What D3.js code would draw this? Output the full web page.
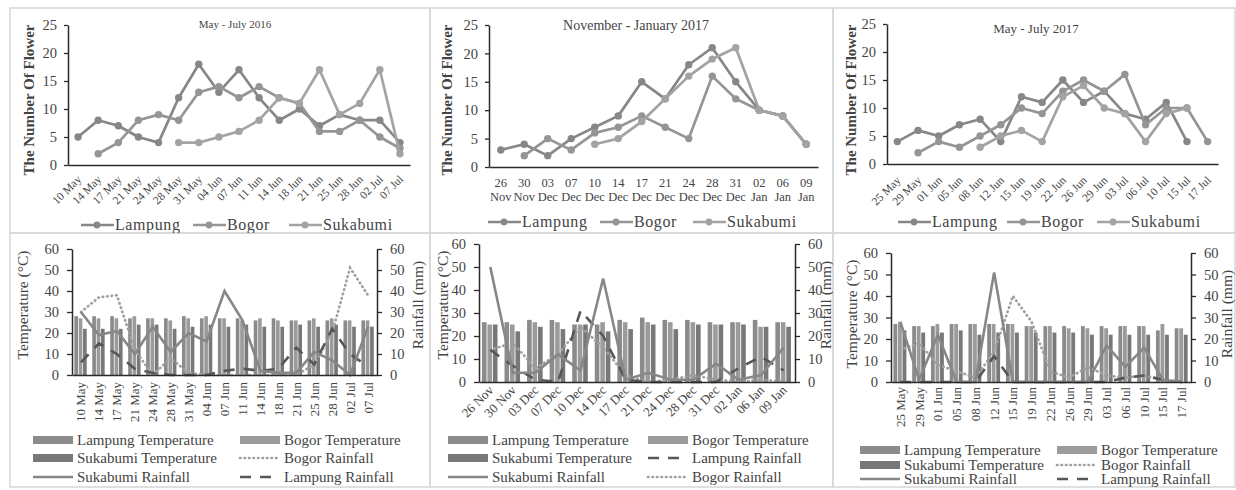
<!DOCTYPE html>
<html>
<head>
<meta charset="utf-8">
<script src="https://cdn.jsdelivr.net/npm/d3@7"></script>
<style>
  body { margin: 0; background: #fff; }
  text { font-family: "Liberation Serif", "DejaVu Serif", serif; fill: #444; }
</style>
</head>
<body>
<svg id="chart" width="1236" height="490"></svg>
<script>
// Categories (sampling dates)
var dates2016 = ['10 May', '14 May', '17 May', '21 May', '24 May', '28 May', '31 May', '04 Jun', '07 Jun', '11 Jun', '14 Jun', '18 Jun', '21 Jun', '25 Jun', '28 Jun', '02 Jul', '07 Jul']
var datesNov = ['26 Nov', '30 Nov', '03 Dec', '07 Dec', '10 Dec', '14 Dec', '17 Dec', '21 Dec', '24 Dec', '28 Dec', '31 Dec', '02 Jan', '06 Jan', '09 Jan']
var dates2017 = ['25 May', '29 May', '01 Jun', '05 Jun', '08 Jun', '12 Jun', '15 Jun', '19 Jun', '22 Jun', '26 Jun', '29 Jun', '03 Jul', '06 Jul', '10 Jul', '15 Jul', '17 Jul']

// Number of flowers
var flowerLampung2016 = [5, 8, 7, 5, 4, 12, 18, 13, 17, 12, 8, 10, 7, 9, 8, 8, 4]
var flowerBogor2016 = [null, 2, 4, 8, 9, 8, 13, 14, 12, 14, 12, 11, 6, 6, 8, 5, 3]
var flowerSukabumi2016 = [null, null, null, null, null, 4, 4, 5, 6, 8, 12, 11, 17, 9, 11, 17, 2]

var flowerLampungNov = [3, 4, 2, 5, 7, 9, 15, 12, 18, 21, 15, 10, 9, 4]
var flowerBogorNov = [null, 2, 5, 3, 6, 7, 9, 7, 5, 16, 12, 10, 9, 4]
var flowerSukabumiNov = [null, null, null, null, 4, 5, 8, 12, 16, 19, 21, 10, 9, 4]

var flowerLampung2017 = [4, 6, 5, 7, 8, 4, 12, 11, 15, 11, 13, 9, 8, 11, 4, null]
var flowerBogor2017 = [null, 2, 4, 3, 5, 7, 10, 9, 13, 15, 13, 16, 7, 10, 10, 4]
var flowerSukabumi2017 = [null, null, null, null, 3, 5, 6, 4, 12, 14, 10, 9, 4, 9, 10, null]

// Temperature (°C)
var tempLampung2016 = [28, 28, 28, 27, 27, 27, 28, 27, 27, 27, 26, 27, 26, 26, 26, 26, 26]
var tempBogor2016 = [27, 27, 27, 28, 27, 26, 27, 28, 27, 26, 27, 26, 26, 27, 27, 26, 26]
var tempSukabumi2016 = [22, 22, 22, 24, 24, 22, 23, 24, 23, 24, 23, 23, 24, 23, 24, 23, 23]
var tempLampungNov = [26, 26, 27, 27, 25, 25, 27, 28, 27, 27, 26, 26, 27, 26]
var tempBogorNov = [25, 25, 26, 26, 25, 26, 26, 26, 26, 26, 25, 26, 24, 26]
var tempSukabumiNov = [25, 22, 24, 23, 25, 22, 23, 25, 23, 25, 25, 25, 24, 24]
var tempLampung2017 = [27, 26, 26, 27, 27, 27, 27, 26, 26, 26, 26, 26, 26, 26, 24, 25]
var tempBogor2017 = [28, 26, 27, 27, 27, 27, 27, 26, 26, 25, 25, 25, 26, 26, 27, 25]
var tempSukabumi2017 = [24, 23, 23, 24, 22, 23, 23, 23, 23, 23, 22, 22, 22, 22, 22, 22]

// Rainfall (mm)
var rainSukabumi2016 = [30, 19, 21, 10, 23, 11, 20, 16, 40, 26, 2, 1, 1, 11, 7, 0, 23]
var rainBogor2016 = [30, 37, 38, 12, 0, 8, 1, 0, 0, 0, 0, 0, 0, 5, 20, 51, 38]
var rainLampung2016 = [6, 15, 10, 3, 1, 0, 0, 0, 2, 3, 2, 3, 13, 5, 22, 10, 4]
var rainSukabumiNov = [50, 4, 4, 12, 5, 45, 1, 4, 1, 1, 8, 1, 3, 15]
var rainBogorNov = [14, 17, 6, 12, 24, 15, 3, 0, 1, 3, 1, 0, 1, 0]
var rainLampungNov = [14, 7, 1, 0, 31, 20, 1, 0, 0, 0, 0, 6, 11, 5]
var rainSukabumi2017 = [28, 1, 22, 0, 0, 51, 0, 0, 0, 0, 0, 17, 7, 16, 1, 0]
var rainBogor2017 = [15, 18, 8, 5, 2, 14, 40, 28, 5, 2, 7, 3, 2, 3, 1, 0]
var rainLampung2017 = [0, 0, 0, 0, 0, 12, 0, 0, 0, 0, 0, 0, 2, 3, 1, 0]

var cities = ['Lampung', 'Bogor', 'Sukabumi']
var flowerColors = ['#878787', '#959595', '#a3a3a3']
var barColors = ['#8b8b8b', '#9b9b9b', '#787878']
var rainStyle = {
  Sukabumi: { color: '#878787', dash: null, width: 2.6, cap: 'butt' },
  Bogor: { color: '#a0a0a0', dash: '0.5,4', width: 2.7, cap: 'round' },
  Lampung: { color: '#575757', dash: '11,9', width: 2.6, cap: 'butt' }
}

var svg = d3.select('#chart')
var defs = svg.append('defs')

// Panel frames
var panels = {
  tl: [10, 8, 430, 233], tm: [430, 8, 833, 233], tr: [833, 8, 1235, 233],
  bl: [10, 233, 430, 487], bm: [430, 233, 833, 487], br: [833, 233, 1235, 487]
}
Object.keys(panels).forEach(function (k) {
  var p = panels[k]
  defs.append('clipPath').attr('id', 'clip-' + k)
    .append('rect').attr('x', p[0]).attr('y', p[1]).attr('width', p[2] - p[0]).attr('height', p[3] - p[1])
  svg.append('rect')
    .attr('x', p[0]).attr('y', p[1]).attr('width', p[2] - p[0]).attr('height', p[3] - p[1])
    .attr('fill', 'none').attr('stroke', '#d6d6d6').attr('stroke-width', 1.5)
})

function styleAxis (sel, size) {
  sel.select('.domain').attr('stroke', '#2a2a2a').attr('stroke-width', 1.5)
  sel.selectAll('.tick line').attr('stroke', '#2a2a2a').attr('stroke-width', 1.3)
  sel.selectAll('.tick text').attr('font-size', size).attr('fill', '#444')
    .attr('font-family', '"Liberation Serif", serif')
}

function flowerPanel (o) {
  var g = svg.append('g').attr('clip-path', 'url(#clip-' + o.clip + ')')
  var x = d3.scaleBand().domain(o.cats).range([o.left, o.right])
  var y = d3.scaleLinear().domain([0, 25]).range([o.bottom, o.top])
  var cx = function (d) { return x(d) + x.bandwidth() / 2 }

  g.append('g').attr('transform', 'translate(' + o.left + ',0)')
    .call(d3.axisLeft(y).tickValues(d3.range(0, 26, 5)).tickSize(4).tickSizeOuter(0).tickPadding(7))
    .call(styleAxis, 14.5)
  g.append('g').attr('transform', 'translate(0,' + o.bottom + ')')
    .call(d3.axisBottom(x).tickSize(0).tickSizeOuter(0).tickFormat(''))
    .call(styleAxis, 12)

  // date labels
  if (o.labelMode === 'two') {
    var lab = g.append('g').selectAll('text').data(o.cats).enter().append('text')
      .attr('text-anchor', 'middle').attr('font-size', 12.5)
    lab.append('tspan').attr('x', cx).attr('y', o.labelY).text(function (d) { return d.split(' ')[0] })
    lab.append('tspan').attr('x', cx).attr('y', o.labelY + 14).text(function (d) { return d.split(' ')[1] })
  } else {
    g.append('g').selectAll('text').data(o.cats).enter().append('text')
      .attr('text-anchor', 'end').attr('font-size', 11.5)
      .attr('transform', function (d) { return 'translate(' + (cx(d) + 4) + ',' + o.labelY + ') rotate(-45)' })
      .text(function (d) { return d })
  }

  g.append('text').attr('x', o.titleX).attr('y', o.titleY).attr('text-anchor', 'middle')
    .attr('font-size', o.titleSize).text(o.title)
  g.append('text').attr('transform', 'translate(' + o.ylabX + ',' + o.ylabY + ') rotate(-90)')
    .attr('text-anchor', 'middle').attr('font-size', 15).attr('font-weight', 'bold').attr('fill', '#555')
    .text('The Number Of Flower')

  var line = d3.line()
    .defined(function (d) { return d.v != null })
    .x(function (d) { return cx(d.c) })
    .y(function (d) { return y(d.v) })

  o.series.forEach(function (s, i) {
    var pts = o.cats.map(function (c, j) { return { c: c, v: s[j] } })
    g.append('path').datum(pts).attr('d', line).attr('fill', 'none')
      .attr('stroke', flowerColors[i]).attr('stroke-width', 2.7).attr('stroke-linejoin', 'round')
    g.append('g').selectAll('circle').data(pts.filter(function (d) { return d.v != null })).enter()
      .append('circle').attr('cx', function (d) { return cx(d.c) }).attr('cy', function (d) { return y(d.v) })
      .attr('r', 3.7).attr('fill', flowerColors[i])
  })

  // legend
  cities.forEach(function (name, i) {
    var lx = o.legendX[i]
    var lg = g.append('g')
    lg.append('line').attr('x1', lx).attr('x2', lx + 33).attr('y1', o.legendY).attr('y2', o.legendY)
      .attr('stroke', flowerColors[i]).attr('stroke-width', 2.7)
    lg.append('circle').attr('cx', lx + 16).attr('cy', o.legendY).attr('r', 3.4).attr('fill', flowerColors[i])
    lg.append('text').attr('x', lx + 34).attr('y', o.legendY + 5).attr('font-size', 16)
      .attr('letter-spacing', 0.6).text(name)
  })
}

function climatePanel (o) {
  var g = svg.append('g').attr('clip-path', 'url(#clip-' + o.clip + ')')
  var x = d3.scaleBand().domain(o.cats).range([o.left, o.right])
  var bw = x.bandwidth()
  var xi = d3.scaleBand().domain([0, 1, 2]).range([bw * 0.13, bw * 0.82]).paddingInner(0.16)
  var yT = d3.scaleLinear().domain([0, 60]).range([o.bottom, o.top])
  var yR = d3.scaleLinear().domain([0, 60]).range([o.bottom, o.top])
  var cx = function (d) { return x(d) + bw / 2 }

  // temperature bars
  o.temps.forEach(function (t, i) {
    g.append('g').selectAll('rect').data(o.cats).enter().append('rect')
      .attr('x', function (d) { return x(d) + xi(i) })
      .attr('width', xi.bandwidth())
      .attr('y', function (d, j) { return yT(t[j]) })
      .attr('height', function (d, j) { return o.bottom - yT(t[j]) })
      .attr('fill', barColors[i])
  })

  // rainfall lines
  var line = d3.line().x(function (d) { return cx(d.c) }).y(function (d) { return yR(d.v) })
  o.rains.forEach(function (r) {
    var st = rainStyle[r.name]
    var pts = o.cats.map(function (c, j) { return { c: c, v: r.values[j] } })
    g.append('path').datum(pts).attr('d', line).attr('fill', 'none')
      .attr('stroke', st.color).attr('stroke-width', st.width)
      .attr('stroke-dasharray', st.dash).attr('stroke-linecap', st.cap)
  })

  g.append('g').attr('transform', 'translate(' + o.left + ',0)')
    .call(d3.axisLeft(yT).tickValues(d3.range(0, 61, 10)).tickSize(5).tickSizeOuter(0).tickPadding(8))
    .call(styleAxis, 14.5)
  g.append('g').attr('transform', 'translate(' + o.right + ',0)')
    .call(d3.axisRight(yR).tickValues(d3.range(0, 61, 10)).tickSize(5).tickSizeOuter(0).tickPadding(8))
    .call(styleAxis, 14.5)
  g.append('g').attr('transform', 'translate(0,' + o.bottom + ')')
    .call(d3.axisBottom(x).tickSize(0).tickSizeOuter(0).tickFormat(''))
    .call(styleAxis, 12)

  g.append('g').selectAll('text').data(o.cats).enter().append('text')
    .attr('text-anchor', 'end').attr('font-size', 13)
    .attr('transform', function (d) {
      return o.labelMode === 'vert'
        ? 'translate(' + (cx(d) + 4.5) + ',' + o.labelY + ') rotate(-90)'
        : 'translate(' + (cx(d) + 4) + ',' + o.labelY + ') rotate(-45)'
    })
    .text(function (d) { return d })

  g.append('text').attr('transform', 'translate(' + o.ylabX + ',' + o.ylabY + ') rotate(-90)')
    .attr('text-anchor', 'middle').attr('font-size', 15.5).text('Temperature (°C)')
  g.append('text').attr('transform', 'translate(' + o.ylabRX + ',' + o.ylabY + ') rotate(-90)')
    .attr('text-anchor', 'middle').attr('font-size', 15.5).text('Rainfall (mm)')

  // legend: two columns, three rows
  o.legend.forEach(function (item, k) {
    var col = k % 2
    var row = Math.floor(k / 2)
    var lx = o.legendCols[col]
    var ly = o.legendRows[row]
    if (item.type === 'bar') {
      g.append('rect').attr('x', lx).attr('y', ly - 4).attr('width', 40).attr('height', 8)
        .attr('fill', barColors[cities.indexOf(item.city)])
    } else {
      var st = rainStyle[item.city]
      g.append('line').attr('x1', lx).attr('x2', lx + 40).attr('y1', ly).attr('y2', ly)
        .attr('stroke', st.color).attr('stroke-width', st.width)
        .attr('stroke-dasharray', st.dash).attr('stroke-linecap', st.cap)
    }
    g.append('text').attr('x', lx + 44).attr('y', ly + 5).attr('font-size', 15)
      .text(item.city + (item.type === 'bar' ? ' Temperature' : ' Rainfall'))
  })
}

flowerPanel({
  clip: 'tl', cats: dates2016, series: [flowerLampung2016, flowerBogor2016, flowerSukabumi2016],
  left: 68, right: 410, top: 25, bottom: 165,
  title: 'May - July 2016', titleX: 235, titleY: 28, titleSize: 11,
  ylabX: 34, ylabY: 100, labelMode: 'rot', labelY: 180,
  legendY: 225, legendX: [81, 193, 289]
})
flowerPanel({
  clip: 'tm', cats: datesNov, series: [flowerLampungNov, flowerBogorNov, flowerSukabumiNov],
  left: 489, right: 818, top: 25, bottom: 167,
  title: 'November - January 2017', titleX: 636, titleY: 30, titleSize: 14,
  ylabX: 452, ylabY: 100, labelMode: 'two', labelY: 187,
  legendY: 222, legendX: [488, 600, 693]
})
flowerPanel({
  clip: 'tr', cats: dates2017, series: [flowerLampung2017, flowerBogor2017, flowerSukabumi2017],
  left: 887, right: 1218, top: 24, bottom: 164,
  title: 'May - July 2017', titleX: 1036, titleY: 33, titleSize: 13,
  ylabX: 856, ylabY: 100, labelMode: 'rot', labelY: 181,
  legendY: 222, legendX: [898, 1007, 1097]
})

var legendA = [
  { type: 'bar', city: 'Lampung' }, { type: 'bar', city: 'Bogor' },
  { type: 'bar', city: 'Sukabumi' }, { type: 'rain', city: 'Bogor' },
  { type: 'rain', city: 'Sukabumi' }, { type: 'rain', city: 'Lampung' }
]
var legendB = [
  { type: 'bar', city: 'Lampung' }, { type: 'bar', city: 'Bogor' },
  { type: 'bar', city: 'Sukabumi' }, { type: 'rain', city: 'Lampung' },
  { type: 'rain', city: 'Sukabumi' }, { type: 'rain', city: 'Bogor' }
]

climatePanel({
  clip: 'bl', cats: dates2016,
  temps: [tempLampung2016, tempBogor2016, tempSukabumi2016],
  rains: [{ name: 'Bogor', values: rainBogor2016 }, { name: 'Lampung', values: rainLampung2016 }, { name: 'Sukabumi', values: rainSukabumi2016 }],
  left: 72, right: 377, top: 249, bottom: 375,
  labelMode: 'vert', labelY: 382, ylabX: 28, ylabRX: 423, ylabY: 305,
  legend: legendA, legendCols: [33, 240], legendRows: [440, 458, 477]
})
climatePanel({
  clip: 'bm', cats: datesNov,
  temps: [tempLampungNov, tempBogorNov, tempSukabumiNov],
  rains: [{ name: 'Bogor', values: rainBogorNov }, { name: 'Lampung', values: rainLampungNov }, { name: 'Sukabumi', values: rainSukabumiNov }],
  left: 479, right: 795, top: 244, bottom: 382,
  labelMode: 'rot', labelY: 391, ylabX: 448, ylabRX: 831, ylabY: 305,
  legend: legendB, legendCols: [448, 648], legendRows: [440, 458, 477]
})
climatePanel({
  clip: 'br', cats: dates2017,
  temps: [tempLampung2017, tempBogor2017, tempSukabumi2017],
  rains: [{ name: 'Bogor', values: rainBogor2017 }, { name: 'Lampung', values: rainLampung2017 }, { name: 'Sukabumi', values: rainSukabumi2017 }],
  left: 891, right: 1191, top: 253, bottom: 382,
  labelMode: 'vert', labelY: 387, ylabX: 857, ylabRX: 1232, ylabY: 314,
  legend: legendA, legendCols: [860, 1057], legendRows: [450, 465, 479]
})
</script>
</body>
</html>
